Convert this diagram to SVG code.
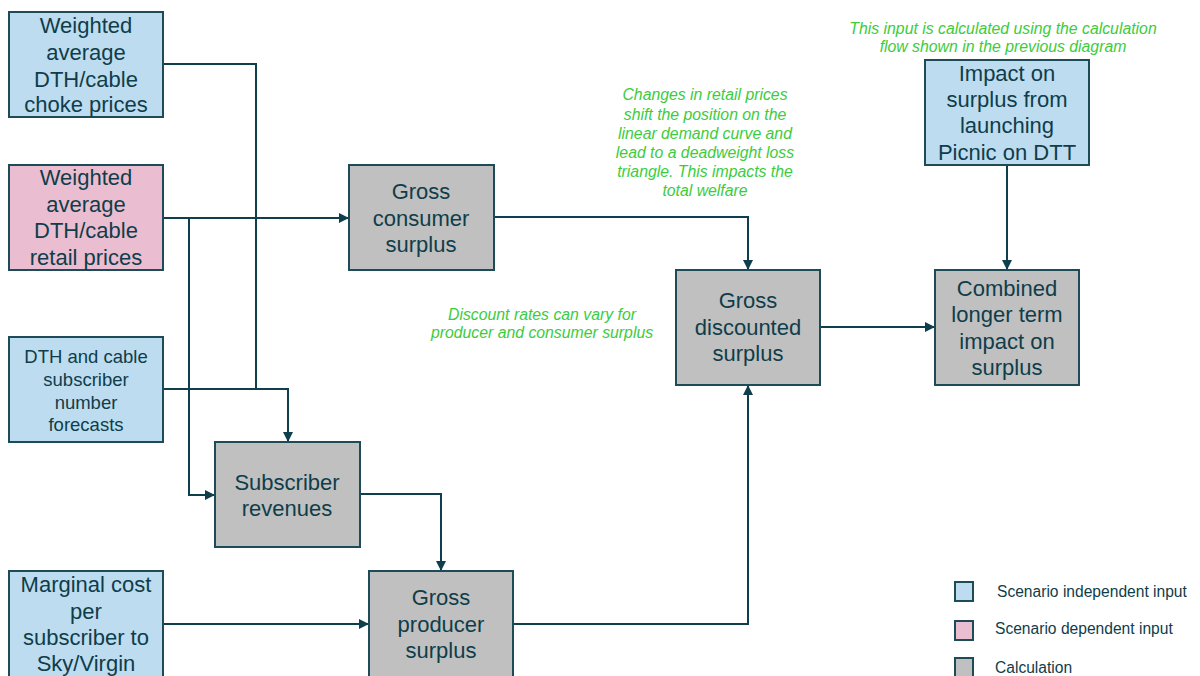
<svg xmlns="http://www.w3.org/2000/svg" width="1200" height="676" viewBox="0 0 1200 676">
<defs>
<marker id="arr" viewBox="0 0 10 10" refX="10" refY="5" markerWidth="10" markerHeight="10" markerUnits="userSpaceOnUse" orient="auto">
<path d="M0,0 L10,5 L0,10 z" fill="#0f3f4c"/>
</marker>
<style>
.box{stroke:#1d4c58;stroke-width:2}
.ind{fill:#bddcef}
.dep{fill:#ebbdd0}
.calc{fill:#c0c0c0}
.t{font-family:"Liberation Sans",Arial,sans-serif;font-size:22px;fill:#0f3d4a;text-anchor:middle}
.ts{font-family:"Liberation Sans",Arial,sans-serif;font-size:18.5px;fill:#0f3d4a;text-anchor:middle}
.note{font-family:"Liberation Sans",Arial,sans-serif;font-size:15.8px;font-style:italic;fill:#3ccc3c;text-anchor:middle}
.leg{font-family:"Liberation Sans",Arial,sans-serif;font-size:15.6px;fill:#0f3d4a}
.c{fill:none;stroke:#0f3f4c;stroke-width:2}
</style>
</defs>
<rect width="1200" height="676" fill="#ffffff"/>

<g id="connectors">
<path class="c" d="M163,64 H256 V389"/>
<path class="c" d="M163,389 H288 V442" marker-end="url(#arr)"/>
<path class="c" d="M163,218 H349" marker-end="url(#arr)"/>
<path class="c" d="M189,218 V495 H215" marker-end="url(#arr)"/>
<path class="c" d="M494,217 H748 V270" marker-end="url(#arr)"/>
<path class="c" d="M360,494 H441 V571" marker-end="url(#arr)"/>
<path class="c" d="M163,624 H369" marker-end="url(#arr)"/>
<path class="c" d="M513,624 H748 V385" marker-end="url(#arr)"/>
<path class="c" d="M820,327 H935" marker-end="url(#arr)"/>
<path class="c" d="M1007,165 V270" marker-end="url(#arr)"/>
</g>

<g id="choke">
<rect class="box ind" x="9" y="12" width="154" height="105"/>
<text class="t" x="86" y="33">Weighted</text>
<text class="t" x="86" y="60">average</text>
<text class="t" x="86" y="87">DTH/cable</text>
<text class="t" x="86" y="112">choke prices</text>
</g>

<g id="retail">
<rect class="box dep" x="9" y="165" width="154" height="105"/>
<text class="t" x="86" y="185">Weighted</text>
<text class="t" x="86" y="212">average</text>
<text class="t" x="86" y="238">DTH/cable</text>
<text class="t" x="86" y="265">retail prices</text>
</g>

<g id="subscribers">
<rect class="box ind" x="9" y="337" width="154" height="105"/>
<text class="ts" x="86" y="363">DTH and cable</text>
<text class="ts" x="86" y="386">subscriber</text>
<text class="ts" x="86" y="409">number</text>
<text class="ts" x="86" y="431">forecasts</text>
</g>

<g id="marginal">
<rect class="box ind" x="9" y="571" width="154" height="110"/>
<text class="t" x="86" y="592">Marginal cost</text>
<text class="t" x="86" y="619">per</text>
<text class="t" x="86" y="645">subscriber to</text>
<text class="t" x="86" y="671">Sky/Virgin</text>
</g>

<g id="consumer">
<rect class="box calc" x="349" y="165" width="145" height="105"/>
<text class="t" x="421" y="199">Gross</text>
<text class="t" x="421" y="226">consumer</text>
<text class="t" x="421" y="252">surplus</text>
</g>

<g id="revenues">
<rect class="box calc" x="215" y="442" width="145" height="105"/>
<text class="t" x="287" y="490">Subscriber</text>
<text class="t" x="287" y="516">revenues</text>
</g>

<g id="producer">
<rect class="box calc" x="369" y="571" width="144" height="110"/>
<text class="t" x="441" y="605">Gross</text>
<text class="t" x="441" y="632">producer</text>
<text class="t" x="441" y="658">surplus</text>
</g>

<g id="discounted">
<rect class="box calc" x="676" y="270" width="144" height="115"/>
<text class="t" x="748" y="308">Gross</text>
<text class="t" x="748" y="335">discounted</text>
<text class="t" x="748" y="361">surplus</text>
</g>

<g id="impact">
<rect class="box ind" x="925" y="60" width="164" height="105"/>
<text class="t" x="1007" y="81">Impact on</text>
<text class="t" x="1007" y="107">surplus from</text>
<text class="t" x="1007" y="133">launching</text>
<text class="t" x="1007" y="160">Picnic on DTT</text>
</g>

<g id="combined">
<rect class="box calc" x="935" y="270" width="144" height="115"/>
<text class="t" x="1007" y="296">Combined</text>
<text class="t" x="1007" y="322">longer term</text>
<text class="t" x="1007" y="349">impact on</text>
<text class="t" x="1007" y="375">surplus</text>
</g>

<g id="notes">
<text class="note" x="1003" y="34">This input is calculated using the calculation</text>
<text class="note" x="1003" y="52">flow shown in the previous diagram</text>
<text class="note" x="705" y="100">Changes in retail prices</text>
<text class="note" x="705" y="120">shift the position on the</text>
<text class="note" x="705" y="139">linear demand curve and</text>
<text class="note" x="705" y="158">lead to a deadweight loss</text>
<text class="note" x="705" y="177">triangle. This impacts the</text>
<text class="note" x="705" y="196">total welfare</text>
<text class="note" x="542" y="320">Discount rates can vary for</text>
<text class="note" x="542" y="338">producer and consumer surplus</text>
</g>

<g id="legend">
<rect class="box ind" x="955" y="582" width="18" height="19"/>
<text class="leg" x="997" y="597">Scenario independent input</text>
<rect class="box dep" x="955" y="621" width="18" height="19"/>
<text class="leg" x="995" y="634">Scenario dependent input</text>
<rect class="box calc" x="955" y="658" width="18" height="19"/>
<text class="leg" x="995" y="673">Calculation</text>
</g>
</svg>
